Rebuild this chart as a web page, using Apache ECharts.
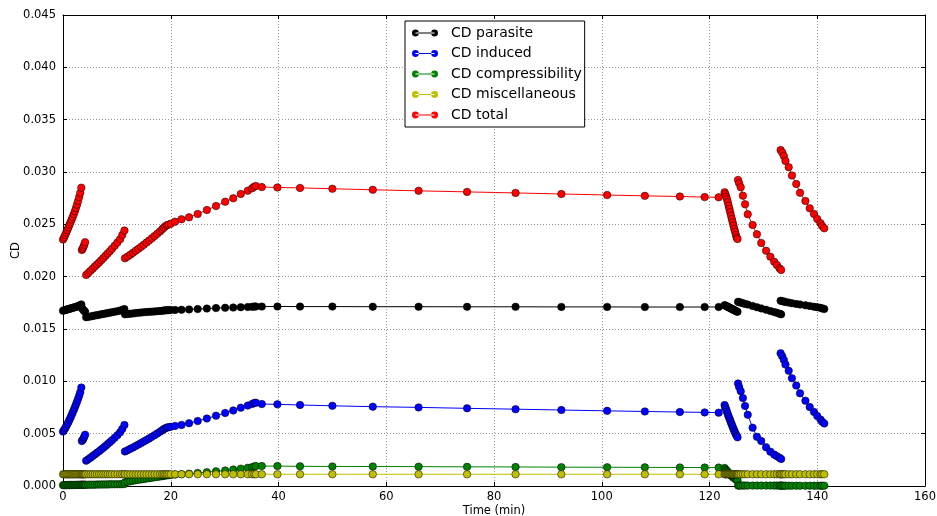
<!DOCTYPE html>
<html>
<head>
<meta charset="utf-8">
<script src="https://cdn.jsdelivr.net/npm/echarts@6/dist/echarts.min.js"></script>
<style>html,body{margin:0;padding:0;background:#fff}#c{width:937px;height:516px}</style>
</head>
<body>
<div id="c"></div>
<script>
// time (min); null separates flight phases (lines are broken there)
const time = [
  0.0,0.2,0.4,0.6,0.8,1.0,1.2,1.4,1.6,1.8,2.0,2.2,2.4,2.6,2.8,3.0,3.2,3.4, null,
  3.5,3.65,3.8,3.95,4.1, null,
  4.3,4.7,5.1,5.5,5.9,6.3,6.7,7.1,7.5,7.9,8.3,8.7,9.1,9.6,10.1,10.6,11.0,11.4, null,
  11.5,12.0,12.5,13.0,13.5,14.0,14.5,15.0,15.5,16.0,16.5,17.0,17.5,18.0,18.4,18.7,19.0,19.3,19.6,20.0,20.8,22.0,23.4,25.0,26.7,28.4,30.1,31.6,33.0,34.3,35.1,35.5,35.8,36.9,
  39.8,44.0,50.0,57.5,66.0,75.0,84.0,92.5,101.0,108.0,114.5,119.1,121.7,
  122.8,122.95,123.1,123.25,123.4,123.55,123.7,123.85,124.0,124.15,124.3,124.45,124.6,124.75,124.9,125.05,125.2, null,
  125.3,125.5,125.8,126.2,126.6,127.1,128.0,128.8,129.6,130.5,131.3,132.0,132.5,133.0,133.3, null,
  133.2,133.5,133.8,134.1,134.7,135.3,136.1,136.8,137.8,138.6,139.4,140.0,140.6,140.9,141.3
];
const cdParasite = [
  .01675,.01678,.01681,.01684,.01687,.01690,.01693,.01696,.01699,.01702,.01705,.01708,.01711,.01715,.01719,.01723,.01728,.01735, null,
  .01700,.01690,.01680,.01672,.01665, null,
  .01612,.01616,.01620,.01624,.01628,.01632,.01636,.01640,.01644,.01648,.01652,.01656,.01660,.01665,.01670,.01676,.01682,.01690, null,
  .01640,.01643,.01646,.01649,.01652,.01655,.01657,.01660,.01662,.01664,.01666,.01668,.01670,.01672,.01674,.01676,.01678,.01679,.01680,.01681,.01682,.01684,.01687,.01690,.01695,.01700,.01703,.01705,.01708,.01710,.01712,.01714,.01715,.01714,
  .01715,.01714,.01714,.01713,.01713,.01712,.01712,.01711,.01711,.01710,.01710,.01710,.01710,
  .01728,.01724,.01720,.01716,.01712,.01708,.01704,.01700,.01696,.01692,.01688,.01684,.01680,.01676,.01672,.01668,.01665, null,
  .01760,.01756,.01752,.01746,.01740,.01733,.01720,.01708,.01697,.01684,.01672,.01662,.01655,.01646,.01640, null,
  .01770,.01766,.01762,.01758,.01752,.01746,.01740,.01734,.01726,.01720,.01713,.01708,.01702,.01697,.01692
];
const cdInduced = [
  .00520,.00535,.00552,.00570,.00590,.00610,.00632,.00655,.00678,.00702,.00727,.00752,.00778,.00805,.00833,.00862,.00895,.00940, null,
  .00430,.00440,.00455,.00470,.00490, null,
  .00242,.00256,.00271,.00286,.00301,.00317,.00333,.00349,.00366,.00383,.00401,.00419,.00437,.00461,.00486,.00513,.00545,.00583, null,
  .00330,.00342,.00355,.00368,.00382,.00396,.00410,.00425,.00440,.00455,.00470,.00486,.00502,.00518,.00532,.00543,.00552,.00558,.00562,.00566,.00574,.00583,.00600,.00621,.00645,.00672,.00698,.00722,.00748,.00768,.00783,.00793,.00796,.00783,
  .00780,.00774,.00766,.00758,.00751,.00742,.00734,.00726,.00718,.00712,.00707,.00703,.00701,
  .00774,.00752,.00730,.00708,.00686,.00665,.00645,.00625,.00605,.00585,.00565,.00546,.00528,.00510,.00493,.00478,.00465, null,
  .00980,.00945,.00905,.00840,.00765,.00680,.00557,.00470,.00430,.00370,.00328,.00300,.00285,.00270,.00258, null,
  .01268,.01240,.01205,.01160,.01100,.01030,.00960,.00885,.00815,.00755,.00708,.00668,.00635,.00615,.00598
];
const cdCompressibility = [
  .00008,.00008,.00008,.00009,.00009,.00009,.00009,.00010,.00010,.00010,.00010,.00010,.00011,.00011,.00011,.00011,.00012,.00012, null,
  .00012,.00012,.00012,.00012,.00012, null,
  .00012,.00012,.00013,.00013,.00013,.00014,.00014,.00014,.00015,.00015,.00015,.00016,.00016,.00016,.00017,.00017,.00018,.00018, null,
  .00035,.00040,.00045,.00050,.00055,.00059,.00063,.00067,.00071,.00075,.00079,.00083,.00087,.00091,.00094,.00097,.00100,.00102,.00104,.00106,.00109,.00113,.00118,.00124,.00132,.00140,.00148,.00157,.00166,.00174,.00180,.00186,.00190,.00190,
  .00190,.00188,.00187,.00186,.00185,.00183,.00182,.00180,.00179,.00178,.00177,.00176,.00176,
  .00172,.00160,.00150,.00142,.00134,.00126,.00118,.00110,.00102,.00095,.00088,.00081,.00075,.00069,.00063,.00058,.00054, null,
  .00004,.00004,.00004,.00004,.00004,.00004,.00004,.00004,.00004,.00004,.00004,.00004,.00004,.00004,.00004, null,
  .00003,.00003,.00003,.00003,.00003,.00003,.00003,.00003,.00003,.00003,.00003,.00003,.00003,.00003,.00003
];
const cdMiscellaneous = [
  .00112,.00112,.00112,.00112,.00112,.00112,.00112,.00112,.00112,.00112,.00112,.00112,.00112,.00112,.00112,.00112,.00112,.00112, null,
  .00112,.00112,.00112,.00112,.00112, null,
  .00112,.00112,.00112,.00112,.00112,.00112,.00112,.00112,.00112,.00112,.00112,.00112,.00112,.00112,.00112,.00112,.00112,.00112, null,
  .00112,.00112,.00112,.00112,.00112,.00112,.00112,.00112,.00112,.00112,.00112,.00112,.00112,.00112,.00112,.00112,.00112,.00112,.00112,.00112,.00112,.00112,.00112,.00112,.00112,.00112,.00112,.00112,.00112,.00112,.00112,.00112,.00112,.00112,
  .00112,.00112,.00112,.00112,.00112,.00112,.00112,.00112,.00112,.00112,.00112,.00112,.00112,
  .00112,.00112,.00112,.00112,.00112,.00112,.00112,.00112,.00112,.00112,.00112,.00112,.00112,.00112,.00112,.00112,.00112, null,
  .00112,.00112,.00112,.00112,.00112,.00112,.00112,.00112,.00112,.00112,.00112,.00112,.00112,.00112,.00112, null,
  .00112,.00112,.00112,.00112,.00112,.00112,.00112,.00112,.00112,.00112,.00112,.00112,.00112,.00112,.00112
];
const cdTotal = [
  .02355,.02375,.02398,.02420,.02445,.02470,.02495,.02520,.02545,.02570,.02597,.02625,.02655,.02688,.02722,.02760,.02800,.02850, null,
  .02255,.02268,.02285,.02305,.02330, null,
  .02016,.02036,.02056,.02076,.02096,.02116,.02136,.02157,.02178,.02200,.02222,.02244,.02267,.02296,.02326,.02358,.02398,.02440, null,
  .02176,.02192,.02210,.02228,.02248,.02266,.02285,.02305,.02326,.02346,.02367,.02388,.02410,.02432,.02452,.02468,.02482,.02492,.02498,.02505,.02525,.02548,.02567,.02599,.02637,.02675,.02716,.02749,.02790,.02822,.02844,.02860,.02866,.02856,
  .02852,.02848,.02840,.02830,.02820,.02810,.02800,.02790,.02780,.02772,.02766,.02760,.02758,
  .02806,.02787,.02764,.02739,.02711,.02678,.02647,.02615,.02583,.02551,.02520,.02487,.02456,.02430,.02398,.02373,.02360, null,
  .02924,.02892,.02854,.02774,.02691,.02596,.02494,.02405,.02322,.02248,.02191,.02143,.02112,.02080,.02064, null,
  .03210,.03186,.03153,.03106,.03046,.02967,.02886,.02801,.02723,.02653,.02599,.02551,.02511,.02484,.02462
];
const xTicks = {min: 0, max: 160, interval: 20};
const yTicks = {min: 0, max: 0.045, interval: 0.005};

const seriesDefs = [
  {name: 'CD parasite', color: '#000000', values: cdParasite},
  {name: 'CD induced', color: '#0000ff', values: cdInduced},
  {name: 'CD compressibility', color: '#008000', values: cdCompressibility},
  {name: 'CD miscellaneous', color: '#bfbf00', values: cdMiscellaneous},
  {name: 'CD total', color: '#ff0000', values: cdTotal}
];

function splitSegments(values) {
  const segs = [];
  let cur = [];
  for (let i = 0; i < time.length; i++) {
    if (time[i] === null) { if (cur.length) segs.push(cur); cur = []; continue; }
    cur.push([time[i], values[i]]);
  }
  if (cur.length) segs.push(cur);
  return segs;
}

const series = [];
seriesDefs.forEach(d => {
  splitSegments(d.values).forEach(seg => {
    series.push({
      type: 'line', name: d.name, data: seg,
      symbol: 'circle', symbolSize: 7.5, showAllSymbol: true,
      itemStyle: {color: d.color, borderColor: '#000', borderWidth: 0.5},
      lineStyle: {color: d.color, width: 1},
      emphasis: {disabled: true}, animation: false, silent: true
    });
  });
});

const font = 'DejaVu Sans';
const iconPath = 'path://M0.4,4A3.6,3.6,0,1,0,7.6,4A3.6,3.6,0,1,0,0.4,4Z M20.4,4A3.6,3.6,0,1,0,27.6,4A3.6,3.6,0,1,0,20.4,4Z M4,3.6L24,3.6L24,4.4L4,4.4Z';

const axisCommon = {
  axisLine: {show: true, onZero: false, lineStyle: {color: '#000', width: 1}},
  axisTick: {show: true, inside: true, length: 4, lineStyle: {color: '#000'}},
};
const chart = echarts.init(document.getElementById('c'));
chart.setOption({
  animation: false,
  backgroundColor: '#fff',
  grid: {left: 63, right: 12, top: 15, bottom: 30, containLabel: false, outerBoundsMode: 'none'},
  legend: {
    data: seriesDefs.map(d => d.name),
    orient: 'vertical', left: 405, top: 21,
    itemWidth: 26, itemHeight: 8, itemGap: 6.5,
    padding: [5, 3, 5, 7],
    icon: iconPath,
    itemStyle: {borderWidth: 0},
    borderColor: '#000', borderWidth: 1, backgroundColor: '#fff',
    textStyle: {fontFamily: font, fontSize: 14, color: '#000', padding: [0, 0, 0, 8]},
    selectedMode: false
  },
  xAxis: [
    Object.assign({type: 'value', min: xTicks.min, max: xTicks.max, interval: xTicks.interval,
      name: 'Time (min)', nameLocation: 'middle', nameGap: 19, nameMoveOverlap: false,
      nameTextStyle: {fontFamily: font, fontSize: 11.5, color: '#000'},
      axisLabel: {fontFamily: font, fontSize: 11.5, color: '#000', margin: 5},
      splitLine: {show: true, lineStyle: {color: '#999', type: [1, 2], width: 1}}
    }, axisCommon),
    Object.assign({type: 'value', position: 'top', min: xTicks.min, max: xTicks.max, interval: xTicks.interval,
      axisLabel: {show: false}, splitLine: {show: false}}, axisCommon)
  ],
  yAxis: [
    Object.assign({type: 'value', min: yTicks.min, max: yTicks.max, interval: yTicks.interval,
      name: 'CD', nameLocation: 'middle', nameGap: 41, nameMoveOverlap: false,
      nameTextStyle: {fontFamily: font, fontSize: 11.5, color: '#000'},
      axisLabel: {fontFamily: font, fontSize: 11.5, color: '#000', margin: 7, formatter: v => v.toFixed(3)},
      splitLine: {show: true, lineStyle: {color: '#999', type: [1, 2], width: 1}}
    }, axisCommon),
    Object.assign({type: 'value', position: 'right', min: yTicks.min, max: yTicks.max, interval: yTicks.interval,
      axisLabel: {show: false}, splitLine: {show: false}}, axisCommon)
  ],
  series: series
});
</script>
</body>
</html>
